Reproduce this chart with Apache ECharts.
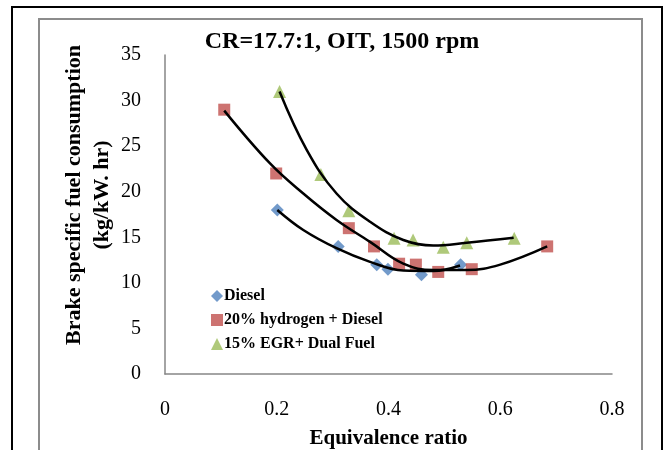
<!DOCTYPE html>
<html><head><meta charset="utf-8">
<script src="https://cdn.jsdelivr.net/npm/echarts@6/dist/echarts.min.js"></script>
<style>html,body{margin:0;padding:0;background:#fff}#c{width:666px;height:450px}</style>
</head><body><div id="c"></div>
<script>
var title = 'CR=17.7:1, OIT, 1500 rpm';
var xName = 'Equivalence ratio';
var yName = 'Brake specific fuel consumption\n(kg/kW. hr)';
var seriesNames = ['Diesel', '20% hydrogen + Diesel', '15% EGR+ Dual Fuel'];

var dieselX = [0.201, 0.310, 0.379, 0.399, 0.459, 0.529];
var dieselY = [18.0, 14.0, 12.0, 11.5, 10.9, 12.0];
var hydX = [0.106, 0.199, 0.329, 0.374, 0.419, 0.449, 0.489, 0.549, 0.684];
var hydY = [29.0, 22.0, 16.0, 14.0, 12.1, 12.0, 11.2, 11.5, 14.0];
var egrX = [0.205, 0.279, 0.329, 0.410, 0.444, 0.498, 0.540, 0.625];
var egrY = [31.0, 21.9, 17.9, 14.9, 14.7, 13.9, 14.4, 14.9];

// trendlines
var dieselTrendX = [0.201, 0.2475, 0.307, 0.367, 0.4265, 0.48, 0.528];
var dieselTrendY = [18.0, 15.8, 13.8, 12.3, 11.35, 11.3, 11.9];
var hydTrendX = [0.106, 0.188, 0.2475, 0.307, 0.367, 0.4265, 0.48, 0.54, 0.60, 0.684];
var hydTrendY = [28.9, 23.1, 19.8, 16.9, 14.5, 12.1, 11.4, 11.4, 12.0, 14.0];
var egrTrendX = [0.205, 0.2536, 0.307, 0.367, 0.4265, 0.48, 0.54, 0.624];
var egrTrendY = [31.0, 24.6, 19.8, 16.7, 14.7, 14.1, 14.4, 14.95];

var xTicks = [0, 0.2, 0.4, 0.6, 0.8];
var yTicks = [0, 5, 10, 15, 20, 25, 30, 35];

function zip(a, b) { return a.map(function (v, i) { return [v, b[i]]; }); }

var serif = '"Liberation Serif","Times New Roman",serif';
var chart = echarts.init(document.getElementById('c'), null, {renderer: 'canvas'});
var trendStyle = {color: '#000', width: 2.5};
chart.setOption({
  animation: false,
  backgroundColor: '#fff',
  title: {text: title, left: 337, top: 25, textAlign: 'center',
    textStyle: {fontFamily: serif, fontWeight: 'bold', fontSize: 24, color: '#000'}},
  grid: {left: 165, right: 54, top: 55, bottom: 76, outerBoundsMode: 'none', containLabel: false},
  graphic: [
    {type: 'rect', shape: {x: 12, y: 7, width: 650, height: 500}, style: {fill: 'none', stroke: '#000', lineWidth: 2}, z: -1},
    {type: 'rect', shape: {x: 39, y: 19, width: 603, height: 500}, style: {fill: 'none', stroke: '#8c8c8c', lineWidth: 2}, z: -1},
    {type: 'text', x: 88, y: 195, rotation: Math.PI / 2,
      style: {text: yName, fontFamily: serif, fontWeight: 'bold', fontSize: 22, lineHeight: 28,
        align: 'center', verticalAlign: 'middle', fill: '#000'}}
  ],
  legend: {
    orient: 'vertical', left: 206, top: 283, itemWidth: 12, itemHeight: 12, itemGap: 8,
    data: [
      {name: seriesNames[0], icon: 'diamond'},
      {name: seriesNames[1], icon: 'rect'},
      {name: seriesNames[2], icon: 'triangle'}
    ],
    textStyle: {fontFamily: serif, fontWeight: 'bold', fontSize: 16, color: '#000', padding: [0, 0, 0, -4]}
  },
  xAxis: {
    type: 'value', min: 0, max: 0.8, interval: 0.2,
    name: xName, nameLocation: 'middle', nameGap: 54,
    nameTextStyle: {fontFamily: serif, fontWeight: 'bold', fontSize: 21, color: '#000'},
    axisLine: {show: true, onZero: false, lineStyle: {color: '#868686', width: 1.5}},
    axisTick: {show: false}, splitLine: {show: false},
    axisLabel: {margin: 26, fontFamily: serif, fontSize: 20, color: '#000',
      formatter: function (v) { return xTicks.indexOf(Math.round(v * 10) / 10) >= 0 ? String(Math.round(v * 10) / 10) : ''; }}
  },
  yAxis: {
    type: 'value', min: 0, max: 35, interval: 5,
    axisLine: {show: true, onZero: false, lineStyle: {color: '#868686', width: 1.5}},
    axisTick: {show: false}, splitLine: {show: false},
    axisLabel: {margin: 24, fontFamily: serif, fontSize: 20, color: '#000',
      formatter: function (v) { return yTicks.indexOf(v) >= 0 ? String(v) : ''; }}
  },
  series: [
    {name: seriesNames[0], type: 'scatter', symbol: 'diamond', symbolSize: 13,
      itemStyle: {color: '#4F81BD'}, data: zip(dieselX, dieselY), z: 2},
    {name: seriesNames[1], type: 'scatter', symbol: 'rect', symbolSize: 12,
      itemStyle: {color: '#C0504D'}, data: zip(hydX, hydY), z: 2},
    {name: seriesNames[2], type: 'scatter', symbol: 'triangle', symbolSize: 13,
      itemStyle: {color: '#9BBB59'}, data: zip(egrX, egrY), z: 2},
    {name: 'dieselTrend', type: 'line', smooth: 0.4, showSymbol: false, symbol: 'none',
      lineStyle: trendStyle, data: zip(dieselTrendX, dieselTrendY), z: 3},
    {name: 'hydTrend', type: 'line', smooth: 0.4, showSymbol: false, symbol: 'none',
      lineStyle: trendStyle, data: zip(hydTrendX, hydTrendY), z: 3},
    {name: 'egrTrend', type: 'line', smooth: 0.4, showSymbol: false, symbol: 'none',
      lineStyle: trendStyle, data: zip(egrTrendX, egrTrendY), z: 3}
  ]
});
</script></body></html>
